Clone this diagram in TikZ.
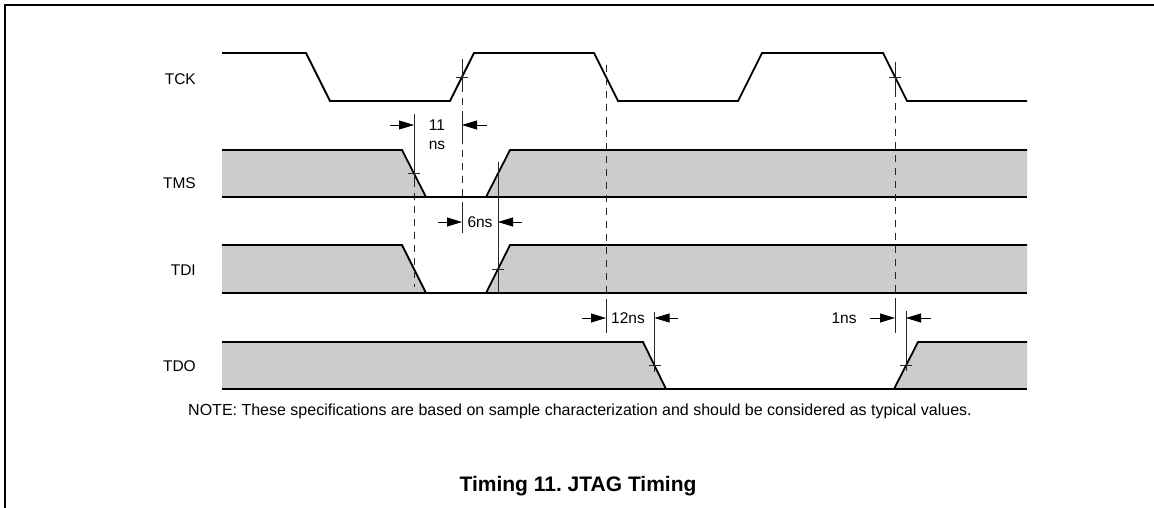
\documentclass[tikz,border=0pt]{standalone}
\usepackage{fontspec}
\setmainfont{Liberation Sans}
\usetikzlibrary{arrows.meta}
\frenchspacing
\begin{document}
\begin{tikzpicture}[x=1pt,y=-1pt,
  sig/.style={line width=1.8pt, line join=miter},
  shadefill/.style={fill=black!20},
  thinln/.style={line width=0.7pt, black!85},
  dashln/.style={line width=0.7pt, black!85, dash pattern=on 7pt off 6pt},
  dimarrow/.style={line width=0.8pt, -{Triangle[length=15pt,width=9pt]}},
  lbl/.style={font=\fontsize{15.5}{18}\selectfont, inner sep=0pt},
]
\useasboundingbox (0,0) rectangle (1154,508);
\draw[line width=2pt] (5,508) -- (5,5) -- (1154,5);

% signal labels
\node[lbl,anchor=east] (tck) at (196,79) {TCK};
\node[lbl,anchor=east] (tms) at (196,183) {TMS};
\node[lbl,anchor=east] (tdi) at (196,270) {TDI};
\node[lbl,anchor=east] (tdo) at (196,366) {TDO};

% TCK
\draw[sig] (222,53) -- (306,53) -- (330,101) -- (450,101) -- (474,53) -- (594,53) -- (618,101)
  -- (738,101) -- (762,53) -- (883,53) -- (907,101) -- (1027,101);

% TMS
\fill[shadefill] (222,150) -- (402,150) -- (426,197) -- (222,197) -- cycle;
\fill[shadefill] (486,197) -- (510,150) -- (1027,150) -- (1027,197) -- cycle;
\draw[sig] (222,150) -- (402,150) -- (426,197);
\draw[sig] (222,197) -- (1027,197);
\draw[sig] (486,197) -- (510,150) -- (1027,150);

% TDI
\fill[shadefill] (222,245) -- (402,245) -- (426,293) -- (222,293) -- cycle;
\fill[shadefill] (486,293) -- (510,245) -- (1027,245) -- (1027,293) -- cycle;
\draw[sig] (222,245) -- (402,245) -- (426,293);
\draw[sig] (222,293) -- (1027,293);
\draw[sig] (486,293) -- (510,245) -- (1027,245);

% TDO
\fill[shadefill] (222,342) -- (643,342) -- (666,389) -- (222,389) -- cycle;
\fill[shadefill] (894,389) -- (918,342) -- (1027,342) -- (1027,389) -- cycle;
\draw[sig] (222,342) -- (643,342) -- (666,389);
\draw[sig] (222,389) -- (1027,389);
\draw[sig] (894,389) -- (918,342) -- (1027,342);

% reference points
\coordinate (x1) at (462,77);
\coordinate (x2) at (414,173.5);
\coordinate (x3) at (498,269);
\coordinate (x4) at (654.5,365.5);
\coordinate (x5) at (895,77);
\coordinate (x6) at (906,365.5);

% extension lines and crossing ticks
\draw[dashln] (462,59) -- (462,233);
\draw[thinln] (462,59) -- (462,89) (462,113) -- (462,137) (462,208) -- (462,233);
\draw[thinln] ([xshift=-6pt]x1) -- ([xshift=6pt]x1);

\draw[thinln] (414,114) -- (414,180);
\draw[dashln] (414,180) -- (414,287);
\draw[thinln] ([xshift=-6pt]x2) -- ([xshift=6pt]x2);

\draw[thinln] (498,162) -- (498,293);
\draw[thinln] ([xshift=-6pt]x3) -- ([xshift=6pt]x3);

\draw[dashln] (606,65) -- (606,305);
\draw[thinln] (606,305) -- (606,333);

\draw[thinln] (654.5,312) -- (654.5,372);
\draw[thinln] ([xshift=-6pt]x4) -- ([xshift=6pt]x4);

\draw[thinln] (895,62) -- (895,90);
\draw[dashln] (895,90) -- (895,305);
\draw[thinln] (895,305) -- (895,333);
\draw[thinln] ([xshift=-6pt]x5) -- ([xshift=6pt]x5);

\draw[thinln] (906,311) -- (906,371);
\draw[thinln] ([xshift=-6pt]x6) -- ([xshift=6pt]x6);

% dimension arrows
\draw[dimarrow] (390,125) -- (414,125);
\draw[dimarrow] (487,125) -- (462,125);
\node[lbl] (t11a) at (437,125) {11};
\node[lbl] (t11b) at (437,145) {ns};

\draw[dimarrow] (438,222) -- (462,222);
\draw[dimarrow] (522,222) -- (498,222);
\node[lbl] (t6) at (480,222) {6ns};

\draw[dimarrow] (582,318) -- (606,318);
\draw[dimarrow] (678,318) -- (654.5,318);
\node[lbl] (t12) at (628,318) {12ns};

\draw[dimarrow] (870,318) -- (895,318);
\draw[dimarrow] (931,318) -- (906,318);
\node[lbl] (t1) at (844,318) {1ns};

% note and title
\node[lbl,font=\fontsize{16}{19}\selectfont] (note) at (580,411)
  {NOTE: These specifications are based on sample characterization and should be considered as typical values.};
\node[inner sep=0pt,font=\fontsize{21}{25}\selectfont\bfseries] (title) at (578,486) {Timing 11. JTAG Timing};
\end{tikzpicture}
\end{document}
